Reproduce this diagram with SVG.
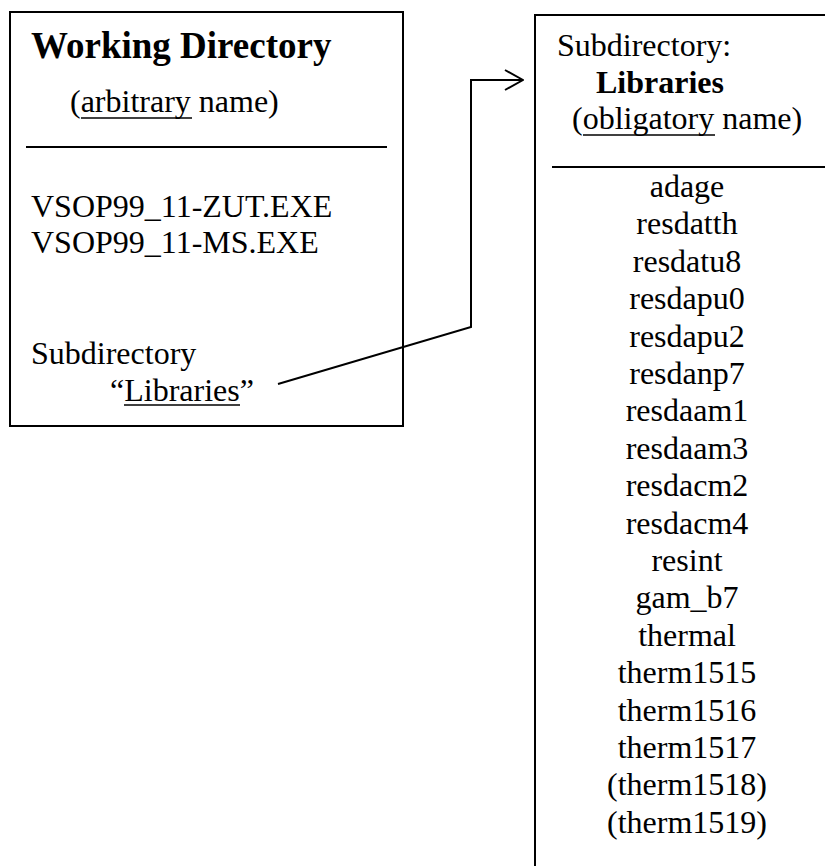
<svg xmlns="http://www.w3.org/2000/svg" width="825" height="866" viewBox="0 0 825 866">
<defs>
<style>
.box{fill:none;stroke:#000;stroke-width:2}
.rule{stroke:#000;stroke-width:2}
.ul{stroke:#000;stroke-width:1.6}
.t{font-family:"Liberation Serif","Times New Roman",serif;font-size:32px;fill:#000}
.b{font-weight:bold}
.m{text-anchor:middle}
.conn{fill:none;stroke:#000;stroke-width:2}
</style>
<marker id="open" viewBox="0 0 20 22" refX="19" refY="11" markerWidth="20" markerHeight="22" markerUnits="userSpaceOnUse" orient="auto">
<path d="M1,1 L19,11 L1,21" fill="none" stroke="#000" stroke-width="2"/>
</marker>
</defs>
<rect width="825" height="866" fill="#fff"/>
<g id="working-directory">
<rect class="box" x="10" y="12" width="393" height="414"/>
<text class="t b" x="31" y="58" style="font-size:37px">Working Directory</text>
<text class="t" x="70" y="112">(arbitrary name)</text>
<line class="ul" x1="81" y1="118" x2="192" y2="118"/>
<line class="rule" x1="26" y1="147" x2="387" y2="147"/>
<text class="t" x="31" y="217">VSOP99_11-ZUT.EXE</text>
<text class="t" x="31" y="253">VSOP99_11-MS.EXE</text>
<text class="t" x="31" y="364">Subdirectory</text>
<text class="t" x="110" y="401">“Libraries”</text>
<line class="ul" x1="124" y1="405" x2="240" y2="405"/>
</g>
<g id="libraries">
<path class="box" d="M826,15 H535 V867"/>
<text class="t" x="557" y="56">Subdirectory:</text>
<text class="t b" x="596" y="93">Libraries</text>
<text class="t" x="572" y="129">(obligatory name)</text>
<line class="ul" x1="583" y1="135" x2="715" y2="135"/>
<line class="rule" x1="552" y1="167" x2="825" y2="167"/>
<text class="t m" x="687" y="197">adage</text>
<text class="t m" x="687" y="234.4">resdatth</text>
<text class="t m" x="687" y="271.8">resdatu8</text>
<text class="t m" x="687" y="309.2">resdapu0</text>
<text class="t m" x="687" y="346.6">resdapu2</text>
<text class="t m" x="687" y="384">resdanp7</text>
<text class="t m" x="687" y="421.4">resdaam1</text>
<text class="t m" x="687" y="458.8">resdaam3</text>
<text class="t m" x="687" y="496.2">resdacm2</text>
<text class="t m" x="687" y="533.6">resdacm4</text>
<text class="t m" x="687" y="571">resint</text>
<text class="t m" x="687" y="608.4">gam_b7</text>
<text class="t m" x="687" y="645.8">thermal</text>
<text class="t m" x="687" y="683.2">therm1515</text>
<text class="t m" x="687" y="720.6">therm1516</text>
<text class="t m" x="687" y="758">therm1517</text>
<text class="t m" x="687" y="795.4">(therm1518)</text>
<text class="t m" x="687" y="832.8">(therm1519)</text>
</g>
<g id="connectors">
<path class="conn" d="M278,384 L471,327 V80 H523" marker-end="url(#open)"/>
</g>
</svg>
